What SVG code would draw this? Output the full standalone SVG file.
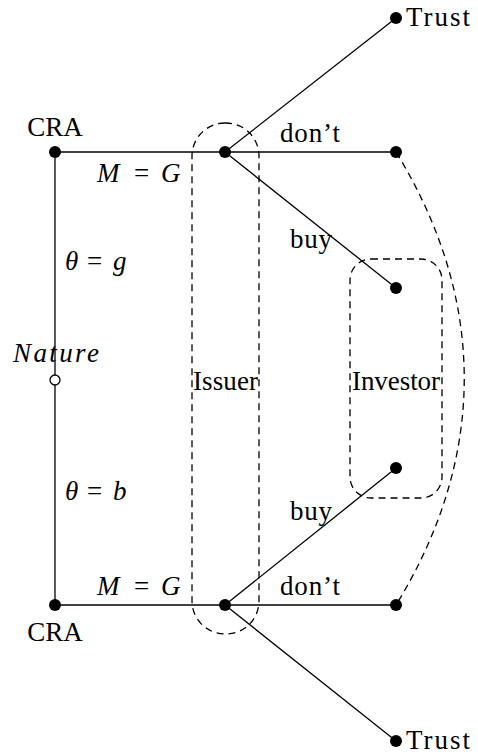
<svg xmlns="http://www.w3.org/2000/svg" width="478" height="754" viewBox="0 0 478 754">
<style>
text{font-family:'Liberation Serif',serif;font-size:27px;fill:#000}
.it{font-style:italic}
.e{stroke:#000;stroke-width:1.3;fill:none}
.d{stroke:#000;stroke-width:1.3;fill:none;stroke-dasharray:7 5}
.n{fill:#000}
.o{fill:#fff;stroke:#000;stroke-width:1.3}
</style>
<rect width="478" height="754" fill="#fff"/>
<g id="connectors">
<line class="e" x1="55" y1="152" x2="55" y2="605"/>
<line class="e" x1="55" y1="152" x2="396" y2="152"/>
<line class="e" x1="55" y1="605" x2="396" y2="605"/>
<line class="e" x1="225" y1="152" x2="396" y2="18"/>
<line class="e" x1="225" y1="152" x2="396" y2="288"/>
<line class="e" x1="225" y1="605" x2="396" y2="468"/>
<line class="e" x1="225" y1="605" x2="396" y2="741"/>
<path class="d" d="M396,152 C487,300 487,457 396,605"/>
</g>
<g id="issuer-set"><rect class="d" x="192" y="123" width="67" height="511" rx="33" ry="33"/><text x="193" y="390" textLength="65" lengthAdjust="spacing">Issuer</text></g>
<g id="investor-set"><rect class="d" x="350" y="259" width="92" height="239" rx="21" ry="21"/><text x="352" y="390" textLength="88" lengthAdjust="spacing">Investor</text></g>
<g id="nature"><circle class="o" cx="55" cy="380" r="5"/><text class="it" x="13" y="362" textLength="86" lengthAdjust="spacing">Nature</text></g>
<g id="cra-top"><circle class="n" cx="55" cy="152" r="6"/><text x="55" y="136" text-anchor="middle">CRA</text></g>
<g id="cra-bottom"><circle class="n" cx="55" cy="605" r="6"/><text x="55" y="641" text-anchor="middle">CRA</text></g>
<g id="issuer-top"><circle class="n" cx="225" cy="152" r="6"/></g>
<g id="issuer-bottom"><circle class="n" cx="225" cy="605" r="6"/></g>
<g id="trust-top"><circle class="n" cx="396" cy="18" r="6"/><text x="406" y="26" textLength="64" lengthAdjust="spacing">Trust</text></g>
<g id="trust-bottom"><circle class="n" cx="396" cy="741" r="6"/><text x="406" y="749" textLength="64" lengthAdjust="spacing">Trust</text></g>
<g id="dont-top"><circle class="n" cx="396" cy="152" r="6"/></g>
<g id="dont-bottom"><circle class="n" cx="396" cy="605" r="6"/></g>
<g id="inv-top"><circle class="n" cx="396" cy="288" r="6"/></g>
<g id="inv-bottom"><circle class="n" cx="396" cy="468" r="6"/></g>
<g id="labels">
<text y="182"><tspan class="it" x="97">M</tspan><tspan x="134">=</tspan><tspan class="it" x="161">G</tspan></text>
<text y="595"><tspan class="it" x="97">M</tspan><tspan x="134">=</tspan><tspan class="it" x="161">G</tspan></text>
<text y="270"><tspan class="it" x="65">θ</tspan><tspan x="87">=</tspan><tspan class="it" x="113">g</tspan></text>
<text y="500"><tspan class="it" x="65">θ</tspan><tspan x="87">=</tspan><tspan class="it" x="113">b</tspan></text>
<text x="280" y="142" textLength="60" lengthAdjust="spacing">don’t</text>
<text x="280" y="595" textLength="60" lengthAdjust="spacing">don’t</text>
<text x="290" y="248" textLength="42" lengthAdjust="spacing">buy</text>
<text x="290" y="520" textLength="42" lengthAdjust="spacing">buy</text>
</g>
</svg>
